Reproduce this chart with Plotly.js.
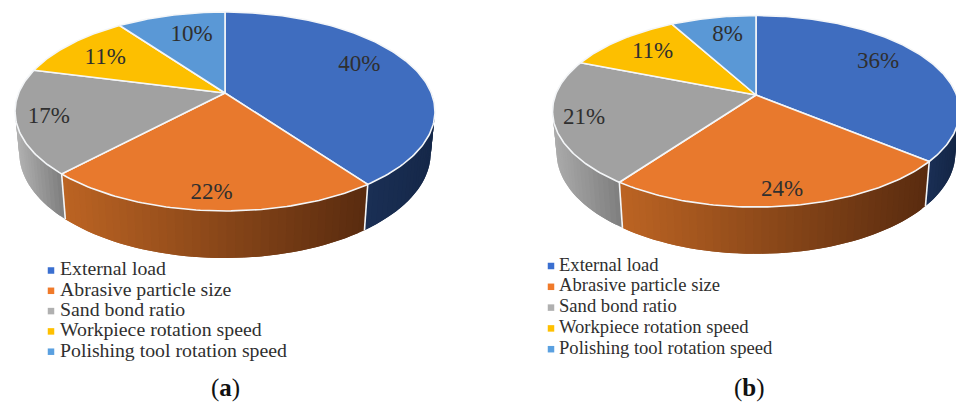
<!DOCTYPE html>
<html>
<head>
<meta charset="utf-8">
<script src="https://cdn.plot.ly/plotly-3.0.1.min.js"></script>
<style>html,body{margin:0;padding:0;background:#fff}#chart{width:956px;height:403px}</style>
</head>
<body>
<div id="chart"></div>
<script>
// Factor shares for the two polishing conditions
const categories = ["External load", "Abrasive particle size", "Sand bond ratio", "Workpiece rotation speed", "Polishing tool rotation speed"];
const sharesA = [40, 22, 17, 11, 10];
const sharesB = [36, 24, 21, 11, 8];

// Slice styling
const faceColors = ["#3f6dbf", "#e8792d", "#a1a1a1", "#fdbf00", "#5a98d6"];
const keyColors = ["#3a6fd0", "#f07a2a", "#b0b0b0", "#ffc000", "#5aa0e0"];
const wallRamps = [
  ["#1a2f55", "#16294b"],
  ["#bc6423", "#592b0f"],
  ["#a3a3a3", "#7e7e7e"],
  ["#8f6a00", "#8f6a00"],
  ["#2f5f90", "#2f5f90"]
];

// Perspective settings for each disc: apex, half axes, tilt and thickness
const viewA = {cx: 225, cy: 93, a: 206.3, b: 96, k: 0.186, e: 0.02, d: 41.6,
  labelR: [0.753, 0.875, 0.85, 0.736, 0.706], labelShift: [-6, 0, 0, -2, 3],
  keyX: 51, keyTextX: 60, keyY: 270.5, keyStep: 20.3, keyFont: 19.8};
const viewB = {cx: 756, cy: 95, a: 200.5, b: 93, k: 0.17, e: 0.02, d: 42,
  labelR: [0.75, 0.88, 0.857, 0.745, 0.742], labelShift: [-5, 0, 0, 0, 2],
  keyX: 551, keyTextX: 559, keyY: 266, keyStep: 20.8, keyFont: 18.6};

const rad = deg => deg * Math.PI / 180;

// Project a point on the disc; clockwise angle from the top, r in 0..1, lower=true for the underside
function project(v, deg, r, lower) {
  const u = r * Math.sin(rad(deg)), w = r * Math.cos(rad(deg));
  const den = 1 + v.k * w + (lower ? v.e : 0);
  return [v.cx + v.a * u / den, v.cy + (-v.b * w + (lower ? v.d : 0)) / den];
}

function mix(c1, c2, t) {
  const p = c => [1, 3, 5].map(i => parseInt(c.substr(i, 2), 16));
  const A = p(c1), B = p(c2);
  return "rgb(" + A.map((x, i) => Math.round(x + (B[i] - x) * t)).join(",") + ")";
}

function discTraces(values, v) {
  const total = values.reduce((s, x) => s + x, 0);
  const walls = [], faces = [], edges = [];
  const labelX = [], labelY = [], labelText = [];
  let start = 0;
  values.forEach((val, i) => {
    const from = start * 360 / total, to = (start + val) * 360 / total;
    start += val;

    // Side wall, split into narrow overlapping strips that carry the shading
    const visFrom = Math.max(from, 80), visTo = Math.min(to, 280);
    if (visTo > visFrom) {
      const x0 = project(v, visFrom, 1, false)[0], x1 = project(v, visTo, 1, false)[0];
      const lo = Math.min(x0, x1), hi = Math.max(x0, x1);
      const steps = Math.max(1, Math.ceil((visTo - visFrom) / 2));
      const dt = (visTo - visFrom) / steps;
      for (let s = 0; s < steps; s++) {
        const t0 = visFrom + dt * s;
        const t1 = visFrom + dt * (s + 1);
        const tEnd = Math.min(visTo, t1 + dt);
        const q = [project(v, t0, 1, false), project(v, t1, 1, false), project(v, tEnd, 1, false),
                   project(v, tEnd, 1, true), project(v, t1, 1, true), project(v, t0, 1, true)];
        const mid = (q[0][0] + q[1][0]) / 2;
        const col = mix(wallRamps[i][0], wallRamps[i][1], (mid - lo) / (hi - lo || 1));
        walls.push({type: "scatter", mode: "none", fill: "toself", fillcolor: col,
          x: q.map(p => p[0]).concat(q[0][0]), y: q.map(p => p[1]).concat(q[0][1]),
          hoverinfo: "skip", showlegend: false});
      }
    }

    // Top face of the slice
    const xs = [v.cx], ys = [v.cy];
    for (let t = from; t <= to + 1e-6; t += (to - from) / Math.ceil(to - from)) {
      const p = project(v, t, 1, false);
      xs.push(p[0]); ys.push(p[1]);
    }
    xs.push(v.cx); ys.push(v.cy);
    faces.push({type: "scatter", mode: "lines", fill: "toself", fillcolor: faceColors[i],
      x: xs, y: ys, line: {color: "#f4f6f8", width: 1.6}, hovertemplate: categories[i] + ": " + val + "%<extra></extra>", showlegend: false});

    // White seam down the wall where two slices meet on the visible side
    if (Math.cos(rad(to)) < -v.k && to < 360) {
      const a = project(v, to, 1, false), b = project(v, to, 1, true);
      edges.push({type: "scatter", mode: "lines", x: [a[0], b[0]], y: [a[1], b[1]],
        line: {color: "#f4f6f8", width: 1.6}, hoverinfo: "skip", showlegend: false});
    }

    const midAngle = (from + to) / 2 + v.labelShift[i];
    const lp = project(v, midAngle, v.labelR[i], false);
    labelX.push(lp[0]); labelY.push(lp[1]); labelText.push(val + "%");
  });

  const labels = {type: "scatter", mode: "text", x: labelX, y: labelY, text: labelText,
    textposition: "middle center", textfont: {family: "Liberation Serif", size: 23, color: "#2f2f2f"},
    hoverinfo: "skip", showlegend: false};

  // Category key below the disc
  const keyY = categories.map((_, i) => v.keyY + v.keyStep * i);
  const keyMarks = {type: "scatter", mode: "markers", x: categories.map(() => v.keyX), y: keyY,
    marker: {symbol: "square", size: 6.5, color: keyColors, line: {width: 0}}, hoverinfo: "skip", showlegend: false};
  const keyText = {type: "scatter", mode: "text", x: categories.map(() => v.keyTextX), y: keyY, text: categories,
    textposition: "middle right", textfont: {family: "Liberation Serif", size: v.keyFont, color: "#2f2f2f"},
    hoverinfo: "skip", showlegend: false};

  return walls.concat(edges, faces, [labels, keyMarks, keyText]);
}

const hiddenAxis = {visible: false, fixedrange: true, showgrid: false, zeroline: false};
const tagFont = {family: "Liberation Serif", size: 25, color: "#111"};

Plotly.newPlot("chart", discTraces(sharesA, viewA).concat(discTraces(sharesB, viewB)), {
  width: 956, height: 403,
  margin: {l: 0, r: 0, t: 0, b: 0},
  paper_bgcolor: "#fff", plot_bgcolor: "#fff",
  xaxis: Object.assign({range: [0, 956]}, hiddenAxis),
  yaxis: Object.assign({range: [403, 0]}, hiddenAxis),
  annotations: [
    {x: 225, y: 388, xref: "x", yref: "y", text: "(<b>a</b>)", showarrow: false, font: tagFont},
    {x: 749, y: 388, xref: "x", yref: "y", text: "(<b>b</b>)", showarrow: false, font: tagFont}
  ]
}, {displayModeBar: false, staticPlot: true});
</script>
</body>
</html>
